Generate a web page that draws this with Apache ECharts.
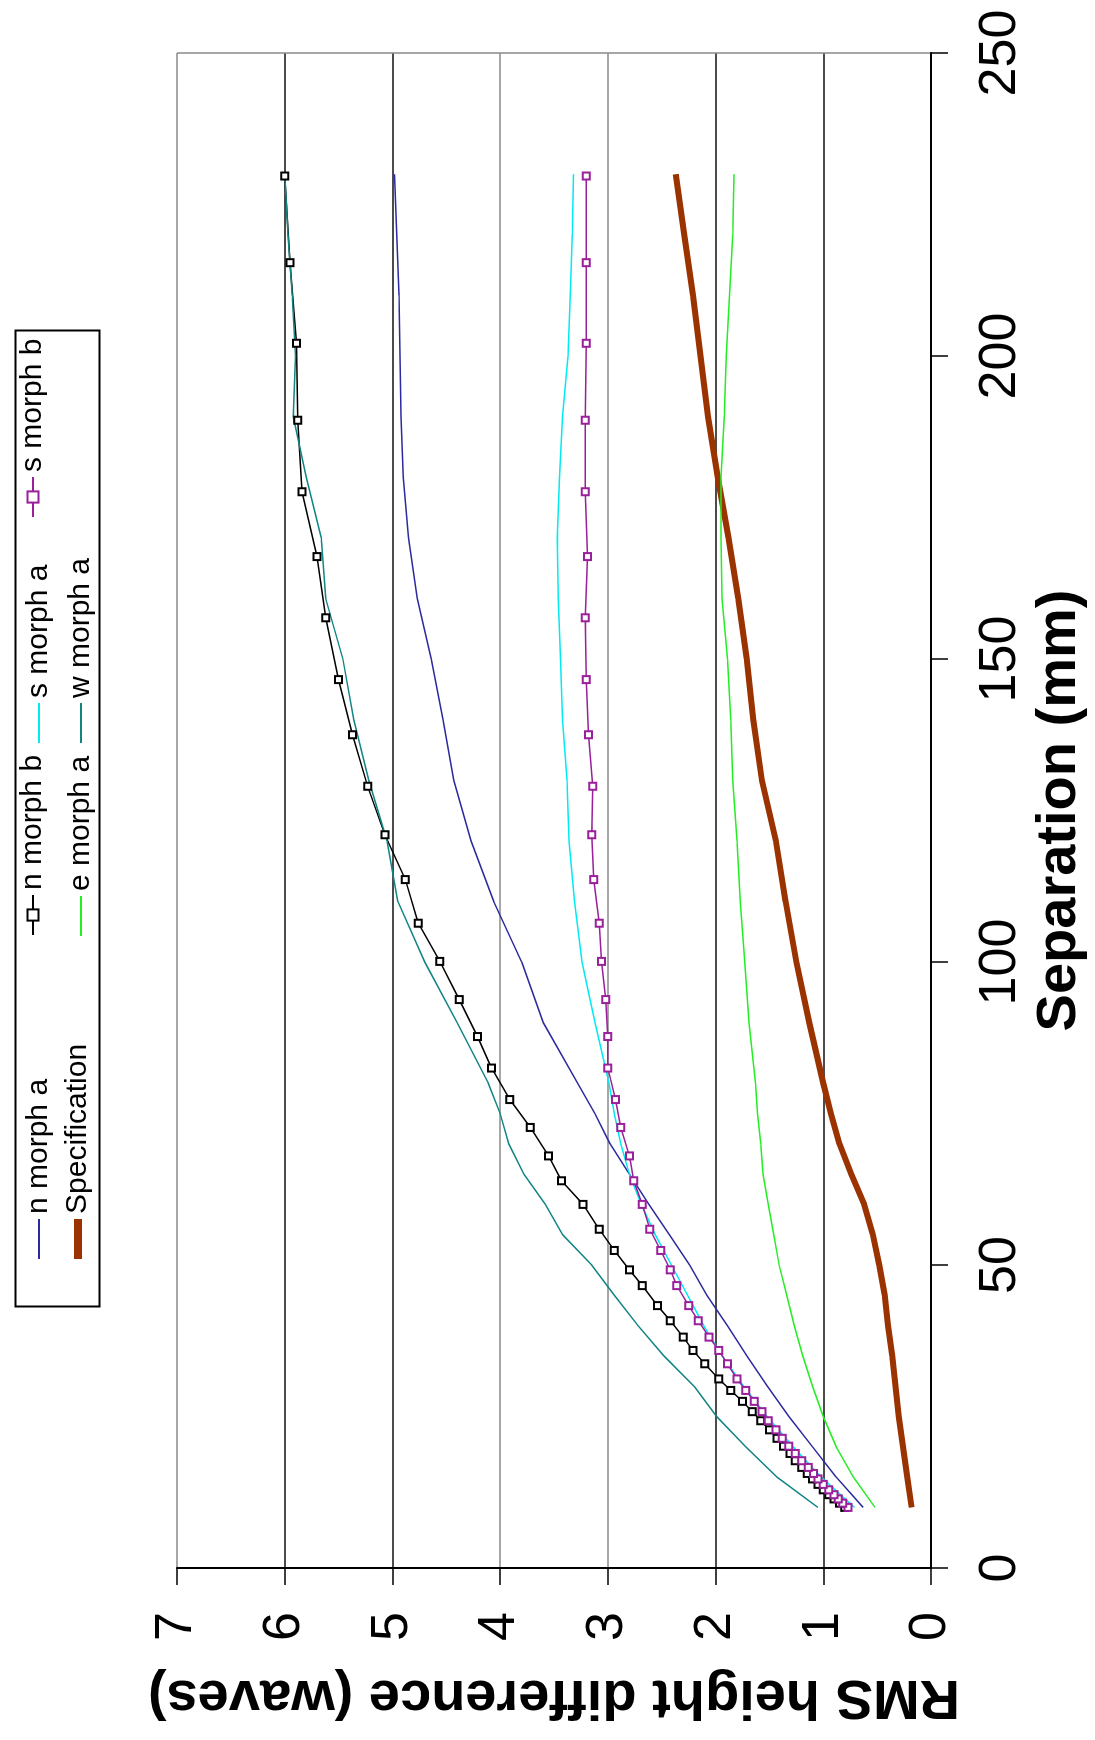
<!DOCTYPE html>
<html lang="en">
<head>
	<meta charset="utf-8">
	<title>RMS height difference vs separation</title>
	<script src="https://cdn.jsdelivr.net/npm/echarts@6.0.0/dist/echarts.min.js"></script>
	<style>
		html, body { margin: 0; padding: 0; width: 1095px; height: 1740px; overflow: hidden; background: #fff; }
		/* the chart is drawn the normal way round, then turned a quarter turn to the left */
		#wrap { position: absolute; left: 0; top: 0; width: 1740px; height: 1095px;
			transform-origin: 0 0; transform: translate(0, 1740px) rotate(-90deg); }
		#chart { width: 1740px; height: 1095px; }
	</style>
</head>
<body>
<div id="wrap"><div id="chart"></div></div>
<script>
    // separations (mm) of the marked points
    var sepMarked = [10.0, 10.7, 11.4, 12.1, 12.9, 13.8, 14.7, 15.6, 16.6, 17.7,
        18.9, 20.1, 21.4, 22.8, 24.3, 25.8, 27.5, 29.3, 31.2, 33.7,
        35.9, 38.1, 40.8, 43.3, 46.6, 49.2, 52.4, 55.9, 60.0, 63.9,
        68.0, 72.7, 77.3, 82.5, 87.7, 93.8, 100.1, 106.4, 113.6, 121.0,
        129.0, 137.5, 146.6, 156.8, 166.9, 177.6, 189.4, 202.1, 215.4, 229.7];
    var nMorphB = [0.80, 0.85, 0.90, 0.95, 1.00, 1.05, 1.10, 1.15, 1.20, 1.26,
        1.31, 1.37, 1.43, 1.50, 1.58, 1.66, 1.75, 1.86, 1.97, 2.10,
        2.21, 2.30, 2.42, 2.54, 2.68, 2.80, 2.94, 3.08, 3.23, 3.43,
        3.55, 3.72, 3.91, 4.08, 4.21, 4.38, 4.56, 4.76, 4.88, 5.07,
        5.23, 5.37, 5.50, 5.62, 5.70, 5.84, 5.88, 5.89, 5.95, 6.00];
    var sMorphB = [0.77, 0.82, 0.86, 0.90, 0.95, 1.00, 1.05, 1.09, 1.14, 1.20,
        1.26, 1.32, 1.38, 1.44, 1.51, 1.57, 1.64, 1.72, 1.80, 1.89,
        1.97, 2.06, 2.16, 2.25, 2.36, 2.42, 2.51, 2.61, 2.68, 2.76,
        2.80, 2.88, 2.93, 3.00, 3.00, 3.02, 3.06, 3.08, 3.13, 3.15,
        3.14, 3.18, 3.20, 3.21, 3.19, 3.21, 3.21, 3.20, 3.20, 3.20];

    // separations (mm) read for the plain lines
    var sepLine = [10, 15, 20, 25, 30, 35, 40, 45, 50, 55, 60, 65, 70, 75, 80,
        90, 100, 110, 120, 130, 140, 150, 160, 170, 180, 190, 200, 210, 220, 230];
    var nMorphA = [0.63, 0.88, 1.10, 1.32, 1.52, 1.71, 1.89, 2.08, 2.24, 2.43, 2.62, 2.80, 2.98, 3.12, 3.28,
        3.60, 3.80, 4.06, 4.27, 4.43, 4.53, 4.64, 4.77, 4.85, 4.90, 4.92, 4.93, 4.94, 4.96, 4.98];
    var sMorphA = [0.71, 1.02, 1.28, 1.52, 1.74, 1.94, 2.11, 2.26, 2.41, 2.56, 2.69, 2.80, 2.88, 2.94, 2.99,
        3.12, 3.24, 3.31, 3.36, 3.38, 3.42, 3.44, 3.46, 3.47, 3.45, 3.42, 3.37, 3.35, 3.33, 3.32];
    var eMorphA = [0.52, 0.72, 0.88, 1.00, 1.10, 1.19, 1.27, 1.34, 1.41, 1.46, 1.51, 1.56, 1.58, 1.61, 1.63,
        1.69, 1.73, 1.77, 1.80, 1.84, 1.86, 1.89, 1.94, 1.95, 1.95, 1.92, 1.90, 1.87, 1.84, 1.83];
    var wMorphA = [1.05, 1.43, 1.72, 1.99, 2.20, 2.48, 2.72, 2.94, 3.15, 3.42, 3.58, 3.78, 3.92, 4.00, 4.11,
        4.40, 4.70, 4.95, 5.05, 5.22, 5.36, 5.46, 5.62, 5.66, 5.80, 5.92, 5.90, 5.93, 5.97, 6.00];
    var spec = [0.18, 0.22, 0.26, 0.30, 0.33, 0.36, 0.40, 0.43, 0.48, 0.54, 0.62, 0.74, 0.85, 0.93, 1.00,
        1.13, 1.25, 1.35, 1.44, 1.57, 1.65, 1.71, 1.79, 1.88, 1.98, 2.07, 2.14, 2.21, 2.29, 2.37];

    var sepTicks = [0, 50, 100, 150, 200, 250];
    var rmsTicks = [0, 1, 2, 3, 4, 5, 6, 7];

    function pairs(xs, ys) {
        var out = [];
        for (var i = 0; i < xs.length; i++) out.push([xs[i], ys[i]]);
        return out;
    }

    var font = 'Liberation Sans, Arial, sans-serif';

    function plain(name, color, xs, ys, width) {
        return {
            name: name, type: 'line', symbol: 'none', data: pairs(xs, ys),
            lineStyle: { color: color, width: width || 1.5 }, itemStyle: { color: color }
        };
    }
    function marked(name, color, xs, ys) {
        return {
            name: name, type: 'line', symbol: 'emptyRect', symbolSize: 7, data: pairs(xs, ys),
            lineStyle: { color: color, width: 1.5 },
            itemStyle: { color: color, borderColor: color, borderWidth: 1.5 }
        };
    }
    // one legend per entry so each sits in its own column, like the original
    function legendAt(name, left, top, barHeight) {
        var lg = {
            data: [name], left: left, top: top, padding: 0, itemWidth: 40, itemHeight: 14,
            selectedMode: false, textStyle: { fontSize: 30, color: '#000', fontFamily: font }
        };
        if (barHeight) {
            // plain lines: a flat bar instead of line + dot
            lg.icon = 'rect';
            lg.itemHeight = barHeight;
            lg.top = top + (14 - barHeight) / 2;
        }
        return lg;
    }

    var chart = echarts.init(document.getElementById('chart'), null, { width: 1740, height: 1095 });
    var option = {
        animation: false,
        backgroundColor: '#fff',
        grid: { left: 172, right: 53, top: 177, bottom: 164 },
        legend: [
            legendAt('n morph a', 481, 18, 2),
            legendAt('n morph b', 804, 18),
            legendAt('s morph a', 997, 18, 2),
            legendAt('s morph b', 1222, 18),
            legendAt('Specification', 481, 60, 8),
            legendAt('e morph a', 804, 60, 2),
            legendAt('w morph a', 997, 60, 2)
        ],
        graphic: [{
            type: 'rect', left: 431, top: 13, z: 100,
            shape: { width: 976, height: 84 },
            style: { fill: 'none', stroke: '#000', lineWidth: 2 }
        }],
        xAxis: {
            type: 'value', min: sepTicks[0], max: sepTicks[sepTicks.length - 1], interval: 50,
            name: 'Separation (mm)', nameLocation: 'middle', nameGap: 100,
            nameTextStyle: { fontSize: 56, fontWeight: 'bold', color: '#000', fontFamily: font },
            axisLine: { lineStyle: { color: '#000', width: 2 } },
            axisTick: { show: true, inside: false, length: 17, lineStyle: { color: '#000', width: 1.5 } },
            axisLabel: { fontSize: 52, color: '#000', margin: 44, fontFamily: font },
            splitLine: { show: true, lineStyle: { width: 1.5,
                color: ['rgba(0,0,0,0)', 'rgba(0,0,0,0)', 'rgba(0,0,0,0)', 'rgba(0,0,0,0)', 'rgba(0,0,0,0)', '#8a8a8a'] } }
        },
        yAxis: {
            type: 'value', min: rmsTicks[0], max: rmsTicks[rmsTicks.length - 1], interval: 1,
            name: 'RMS height difference (waves)', nameLocation: 'middle', nameGap: 100,
            nameTextStyle: { fontSize: 56, fontWeight: 'bold', color: '#000', fontFamily: font },
            axisLine: { show: true, lineStyle: { color: '#000', width: 2 } },
            axisTick: { show: true, inside: false, length: 17, lineStyle: { color: '#000', width: 1.5 } },
            axisLabel: { fontSize: 52, color: '#000', margin: 44, fontFamily: font },
            splitLine: { show: true, lineStyle: { width: 1.5,
                color: ['#000', '#111', '#111', '#8a8a8a', '#8a8a8a', '#111', '#111', '#8a8a8a'] } }
        },
        series: [
            plain('n morph a', '#2b2b9e', sepLine, nMorphA),
            marked('n morph b', '#000000', sepMarked, nMorphB),
            plain('s morph a', '#00eaf2', sepLine, sMorphA),
            marked('s morph b', '#9a1f9a', sepMarked, sMorphB),
            plain('Specification', '#9a3300', sepLine, spec, 6),
            plain('e morph a', '#22ee22', sepLine, eMorphA),
            plain('w morph a', '#118484', sepLine, wMorphA)
        ]
    };
    chart.setOption(option);
</script>
</body>
</html>
